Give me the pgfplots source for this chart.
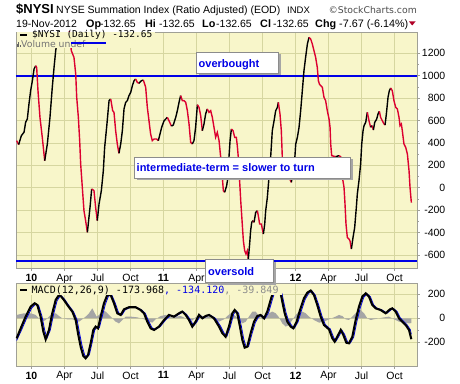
\documentclass[border=0pt]{standalone}
\usepackage{fontspec}
\setmainfont{Liberation Sans}
\newfontfamily\monofont{DejaVu Sans Mono}
\newfontfamily\dejavu{DejaVu Sans}
\usepackage{pgfplots}
\pgfplotsset{compat=1.18}
\definecolor{bgy}{RGB}{248,246,202}
\definecolor{gridc}{RGB}{214,214,160}
\definecolor{bordc}{RGB}{160,160,150}
\definecolor{nred}{RGB}{220,0,48}
\definecolor{nblue}{RGB}{0,0,230}
\definecolor{histg}{RGB}{165,165,165}
\pgfplotsset{
  panel/.style={
    scale only axis, width=401pt,
    xmin=-1.409, xmax=35.045,
    axis background/.style={fill=bgy},
    grid=major, major grid style={draw=gridc, line width=0.6pt},
    axis line style={draw=bordc, line width=0.8pt},
    xtick={0,3,...,33},
    xtick pos=bottom, ytick pos=right, yticklabel pos=right,
    tick align=outside, major tick length=2.5pt, minor tick length=1.5pt,
    tick style={draw=bordc, line width=0.6pt},
    tick label style={font=\fontsize{10.5}{12}\selectfont},
    yticklabel style={anchor=east, inner sep=0pt, xshift=26pt},
    xticklabel style={inner sep=0pt, yshift=-3pt},
  },
  up/.style={black, line width=1.4pt},
  dn/.style={nred, line width=1.4pt},
}
\begin{document}
\begin{tikzpicture}
\path[use as bounding box] (0pt,0pt) rectangle (460pt,383pt);
% ---------------- upper panel ----------------
\begin{axis}[panel, at={(16pt,114.5pt)}, anchor=south west, height=236.5pt,
  ymin=-721, ymax=1390,
  xticklabels={\textbf{10},Apr,Jul,Oct,\textbf{11},Apr,{},{},\textbf{12},Apr,Jul,Oct},
  ytick={-600,-400,-200,0,200,400,600,800,1000,1200},
  yticklabels={-600,-400,-200,0,200,400,600,800,1000,1200},
  minor y tick num=1]
\addplot[nblue, line width=2pt] coordinates {(-1.409,1000) (35.045,1000)};
\addplot[nblue, line width=2pt] coordinates {(-1.409,-650) (35.045,-650)};
\addplot[dn] coordinates {(-1.35,420)(-1.17,385)};
\addplot[up] coordinates {(-1.17,385)(-0.92,465)(-0.68,495)(-0.53,585)(-0.38,613)(-0.23,747)(-0.08,866)(0.08,955)(0.23,1059)(0.38,1089)};
\addplot[dn] coordinates {(0.38,1089)(0.47,1074)(0.59,866)(0.77,628)(0.98,450)(1.20,241)};
\addplot[up] coordinates {(1.20,241)(1.44,390)(1.68,628)(1.89,896)(2.05,1074)(2.20,1223)(2.29,1283)(2.65,1461)(2.95,1500)};
\addplot[dn] coordinates {(2.95,1500)(3.41,1431)(3.62,1223)(3.86,1164)(4.02,1015)(4.11,807)(4.26,628)(4.38,420)(4.47,212)(4.62,3)(4.77,-205)(4.92,-294)(5.08,-398)};
\addplot[up] coordinates {(5.08,-398)(5.32,-175)(5.47,-11)};
\addplot[dn] coordinates {(5.47,-11)(5.68,-26)(5.83,-175)(5.98,-294)};
\addplot[up] coordinates {(5.98,-294)(6.14,-145)(6.35,-26)(6.53,152)(6.65,360)(6.83,539)(7.05,777)(7.20,792)};
\addplot[dn] coordinates {(7.20,792)(7.38,688)(7.5,673)(7.65,509)(7.80,390)(7.95,307)};
\addplot[up] coordinates {(7.95,307)(8.11,390)(8.26,509)(8.41,703)(8.56,762)(8.71,777)(8.86,822)(9.02,851)(9.17,911)(9.32,955)(9.47,970)};
\addplot[dn] coordinates {(9.47,970)(9.62,940)(9.77,932)};
\addplot[up] coordinates {(9.77,932)(9.98,955)(10.17,961)};
\addplot[dn] coordinates {(10.17,961)(10.38,896)(10.53,717)(10.68,598)(10.83,479)(10.98,420)(11.14,435)(11.38,435)(11.53,420)};
\addplot[up] coordinates {(11.53,420)(11.68,479)(11.83,539)(12.05,598)(12.20,613)(12.35,628)};
\addplot[dn] coordinates {(12.35,628)(12.5,598)(12.72,550)};
\addplot[up] coordinates {(12.72,550)(12.89,560)(13.11,628)(13.26,688)(13.41,762)(13.56,822)};
\addplot[dn] coordinates {(13.56,822)(13.71,777)(13.86,777)(14.02,762)(14.17,688)(14.32,569)(14.47,405)(14.62,390)};
\addplot[up] coordinates {(14.62,390)(14.77,420)(14.92,539)(15.08,741)};
\addplot[dn] coordinates {(15.08,741)(15.23,717)(15.38,643)(15.53,509)};
\addplot[up] coordinates {(15.53,509)(15.68,569)(15.83,658)(15.98,703)};
\addplot[dn] coordinates {(15.98,703)(16.14,673)(16.29,688)(16.44,628)(16.59,539)(16.74,450)(16.89,494)(17.05,420)(17.20,271)(17.35,93)(17.44,-26)(17.56,-41)};
\addplot[up] coordinates {(17.56,-41)(17.74,18)(17.86,93)(17.95,271)(18.05,420)(18.17,524)};
\addplot[dn] coordinates {(18.17,524)(18.32,509)(18.47,450)(18.62,450)(18.71,375)(18.80,271)(18.92,63)(19.02,-116)(19.14,-294)(19.26,-473)(19.38,-562)(19.5,-592)(19.62,-562)(19.71,-636)};
\addplot[up] coordinates {(19.71,-636)(19.83,-503)(19.92,-384)(20.02,-309)(20.14,-294)};
\addplot[dn] coordinates {(20.14,-294)(20.23,-309)};
\addplot[up] coordinates {(20.23,-309)(20.38,-220)(20.53,-205)};
\addplot[dn] coordinates {(20.53,-205)(20.62,-250)(20.74,-324)(20.89,-324)(21.08,-413)};
\addplot[up] coordinates {(21.08,-413)(21.20,-324)(21.29,-205)(21.44,-86)(21.59,93)(21.74,271)(21.89,509)(22.05,598)(22.20,688)(22.35,717)(22.44,762)};
\addplot[dn] coordinates {(22.44,762)(22.59,658)(22.71,509)(22.80,271)(22.95,152)(23.26,122)(23.62,48)};
\addplot[up] coordinates {(23.62,48)(23.80,152)(23.92,241)(24.02,390)(24.17,450)(24.32,539)(24.47,688)(24.62,866)(24.77,1045)(24.92,1164)(25.08,1283)(25.23,1342)};
\addplot[dn] coordinates {(25.23,1342)(25.38,1327)(25.53,1283)(25.68,1223)(25.83,1164)(25.98,1074)(26.08,955)(26.17,926)(26.29,911)(26.44,896)(26.59,807)(26.74,777)(26.89,688)(27.05,613)(27.14,539)(27.20,390)(27.29,286)(27.65,277)};
\addplot[up] coordinates {(27.65,277)(27.95,286)};
\addplot[dn] coordinates {(27.95,286)(28.11,277)(28.26,93)(28.41,3)(28.5,-145)(28.59,-324)(28.71,-443)(28.86,-458)(28.95,-473)(29.08,-547)};
\addplot[up] coordinates {(29.08,-547)(29.23,-443)(29.38,-354)(29.53,-175)(29.62,-56)(29.77,63)(29.92,212)(30.02,390)(30.14,509)(30.23,554)(30.38,583)(30.53,673)};
\addplot[dn] coordinates {(30.53,673)(30.68,598)(30.83,539)};
\addplot[up] coordinates {(30.83,539)(30.98,554)};
\addplot[dn] coordinates {(30.98,554)(31.08,515)};
\addplot[up] coordinates {(31.08,515)(31.2,583)(31.38,613)(31.5,658)(31.62,682)};
\addplot[dn] coordinates {(31.62,682)(31.74,628)(31.89,598)(32.05,569)(32.14,560)};
\addplot[up] coordinates {(32.14,560)(32.26,658)(32.41,807)(32.53,866)(32.65,890)};
\addplot[dn] coordinates {(32.65,890)(32.80,866)(32.95,777)(33.11,717)(33.26,703)(33.41,628)(33.5,554)(33.62,569)(33.71,509)(33.86,390)(34.02,360)(34.17,301)(34.32,152)(34.41,3)(34.53,-132.65)};
\end{axis}
% ---------------- MACD panel ----------------
\begin{axis}[panel, at={(16pt,17pt)}, anchor=south west, height=83pt,
  ymin=-397, ymax=294,
  xticklabels={\textbf{10},Apr,Jul,Oct,\textbf{11},Apr,Jul,Oct,\textbf{12},Apr,Jul,Oct},
  ytick={-200,0,200}, yticklabels={-200,0,200},
  minor y tick num=1]
\addplot[fill=histg, draw=none] coordinates {(-1.35,28)(-0.68,42)(-0.08,42)(0.38,28)(0.68,0)(0.98,-28)(1.29,-14)(1.59,14)(1.89,42)(2.20,42)(2.5,19)(2.8,0)(3.26,-8)(3.71,-8)(4.02,-19)(4.32,-28)(4.62,-8)(4.92,14)(5.23,42)(5.53,83)(5.68,56)(5.92,14)(6.14,28)(6.44,69)(6.74,56)(7.05,28)(7.35,0)(7.65,-28)(7.95,-42)(8.26,-14)(8.56,14)(9.02,14)(9.62,8)(10.23,-8)(10.68,-28)(10.98,-36)(11.29,-8)(11.74,19)(12.2,28)(12.65,8)(13.11,14)(13.56,19)(14.02,0)(14.32,-14)(14.62,-19)(14.92,8)(15.23,28)(15.68,8)(16.14,14)(16.59,-14)(17.05,-28)(17.5,-8)(17.80,19)(18.11,42)(18.41,28)(18.86,-8)(19.17,-42)(19.47,-28)(19.77,14)(20.08,56)(20.38,56)(20.68,19)(20.98,-8)(21.29,14)(21.59,42)(21.89,56)(22.20,42)(22.5,8)(22.80,-42)(23.11,-69)(23.41,-56)(23.71,-14)(24.02,28)(24.32,56)(24.62,56)(24.92,42)(25.23,14)(25.68,-14)(26.14,-36)(26.59,-28)(27.05,-8)(27.5,8)(27.95,28)(28.26,19)(28.56,-8)(28.86,-14)(29.32,28)(29.62,56)(29.92,69)(30.23,42)(30.53,0)(30.83,-14)(31.14,-8)(31.59,0)(32.05,8)(32.5,14)(32.95,-8)(33.41,-28)(33.86,-36)(34.32,-42)(34.53,-40)} \closedcycle;
\addplot[nblue, line width=0.8pt] coordinates {(-1.35,-185)(-0.86,-88)(-0.41,8)(0.04,88)(0.41,120)(0.65,107)(0.95,18)(1.20,-100)(1.41,-165)(1.71,-98)(2.01,35)(2.32,145)(2.62,188)(2.77,183)(3.07,151)(3.38,109)(3.83,54)(4.14,-12)(4.35,-115)(4.59,-225)(4.83,-305)(5.04,-326)(5.26,-302)(5.50,-208)(5.74,-100)(5.95,-72)(6.17,-78)(6.41,8)(6.71,115)(7.01,188)(7.32,190)(7.62,125)(7.92,46)(8.23,29)(8.53,72)(8.98,90)(9.59,91)(10.04,68)(10.35,41)(10.65,-24)(10.95,-78)(11.26,-93)(11.71,-68)(12.17,-16)(12.62,24)(13.07,15)(13.53,40)(13.83,54)(14.14,28)(14.44,-12)(14.74,-63)(15.04,-29)(15.35,23)(15.65,3)(15.95,18)(16.26,26)(16.71,1)(17.17,-63)(17.47,-118)(17.77,-148)(18.07,-72)(18.38,35)(18.59,63)(18.83,41)(19.07,-63)(19.29,-170)(19.50,-236)(19.74,-234)(20.04,-130)(20.35,-35)(20.65,13)(20.95,24)(21.26,3)(21.56,48)(21.86,145)(22.10,215)(22.42,258)(22.77,206)(22.92,140)(23.14,46)(23.38,-22)(23.68,-63)(23.92,-80)(24.23,-30)(24.53,62)(24.89,160)(25.20,208)(25.50,228)(25.80,193)(26.10,113)(26.41,18)(26.71,-52)(27.17,-90)(27.47,-160)(27.68,-190)(27.92,-154)(28.23,-100)(28.47,-135)(28.74,-199)(28.98,-206)(29.29,-157)(29.59,-22)(29.89,88)(30.20,174)(30.50,204)(30.80,181)(31.10,113)(31.41,85)(31.86,70)(32.32,43)(32.71,72)(32.92,81)(33.23,57)(33.53,4)(33.83,-25)(34.14,-53)(34.44,-95)(34.53,-134)};
\addplot[black, line width=2.1pt] coordinates {(-1.35,-167)(-0.98,-83)(-0.53,14)(-0.08,97)(0.29,125)(0.53,111)(0.83,14)(1.08,-111)(1.29,-175)(1.59,-97)(1.89,42)(2.20,153)(2.5,194)(2.65,186)(2.95,153)(3.26,111)(3.71,56)(4.02,-14)(4.23,-125)(4.47,-236)(4.71,-314)(4.92,-333)(5.14,-306)(5.38,-208)(5.62,-97)(5.83,-69)(6.05,-83)(6.29,14)(6.59,125)(6.89,194)(7.20,194)(7.5,125)(7.80,42)(8.11,28)(8.41,75)(8.86,92)(9.47,92)(9.92,69)(10.23,42)(10.53,-28)(10.83,-83)(11.14,-97)(11.59,-69)(12.05,-14)(12.5,28)(12.95,14)(13.41,42)(13.71,56)(14.02,28)(14.32,-14)(14.62,-69)(14.92,-28)(15.23,28)(15.53,0)(15.83,19)(16.14,28)(16.59,0)(17.05,-69)(17.35,-125)(17.65,-153)(17.95,-69)(18.26,42)(18.47,69)(18.71,42)(18.95,-69)(19.17,-181)(19.38,-244)(19.62,-236)(19.92,-125)(20.23,-28)(20.53,19)(20.83,28)(21.14,0)(21.44,56)(21.74,153)(21.98,222)(22.3,265)(22.65,208)(22.80,139)(23.02,42)(23.26,-28)(23.56,-69)(23.80,-83)(24.11,-28)(24.41,69)(24.77,167)(25.08,214)(25.38,231)(25.68,194)(25.98,111)(26.29,14)(26.59,-56)(27.05,-92)(27.35,-167)(27.56,-194)(27.80,-153)(28.11,-97)(28.35,-139)(28.62,-203)(28.86,-208)(29.17,-153)(29.47,-14)(29.77,97)(30.08,181)(30.38,208)(30.68,181)(30.98,111)(31.29,83)(31.74,69)(32.20,42)(32.59,75)(32.80,83)(33.11,56)(33.41,0)(33.71,-28)(34.02,-56)(34.32,-97)(34.53,-174)};
\end{axis}
% ---------------- overlays ----------------
\begin{scope}[x=1pt,y=1pt]
% legend covers
\fill[bgy] (16.5,334.5) rectangle (155,350.5);
\fill[bgy] (16.5,88.5) rectangle (282,99.5);
% top legend
\draw[black, line width=2pt] (20,347.5) -- (27,347.5);
\node[anchor=base west, inner sep=0pt] at (32,345.3) {\monofont\fontsize{9.5}{11}\selectfont \$NYSI (Daily) -132.65};
\fill[black!60] (16.8,335.5) rectangle (17.8,339);
\fill[black!60] (18.3,335.5) rectangle (19.3,341);
\fill[black!60] (19.8,335.5) rectangle (20.8,338);
\node[anchor=base west, inner sep=0pt, text=black!55] at (21,335.8) {\dejavu\fontsize{9.3}{10}\selectfont Volume undef};
\draw[nblue, line width=2pt] (71,339.7) -- (106,339.7);
% MACD legend
\draw[black, line width=2pt] (20,93) -- (27,93);
\node[anchor=base west, inner sep=0pt] at (31.5,89.5) {\monofont\fontsize{10}{11}\selectfont MACD(12,26,9) -173.968\textcolor{nblue}{, -134.120}\textcolor{black!45}{, -39.849}};
% annotation boxes
\fill[black!35] (198.5,307.5) rectangle (280.5,328.5);
\filldraw[fill=white, draw=black!45] (196,310) rectangle (278,331);
\node[anchor=base west, inner sep=0pt, text=nblue] at (198.5,315.5) {\bfseries\fontsize{11}{13}\selectfont overbought};
\fill[black!35] (136.5,202.5) rectangle (352.5,223.5);
\filldraw[fill=white, draw=black!45] (134,205) rectangle (350,226);
\node[anchor=base west, inner sep=0pt, text=nblue] at (136.5,211.5) {\bfseries\fontsize{11}{13}\selectfont intermediate-term = slower to turn};
\fill[black!35] (207.5,98.5) rectangle (275.5,121.5);
\filldraw[fill=white, draw=black!45] (205,101) rectangle (273,124);
\node[anchor=base west, inner sep=0pt, text=nblue] at (208,108) {\bfseries\fontsize{11}{13}\selectfont oversold};
% title
\node[anchor=base west, inner sep=0pt] at (16,369.5) {\bfseries\fontsize{13}{15}\selectfont \$NYSI};
\node[anchor=base west, inner sep=0pt] at (56,369.5) {\fontsize{10.5}{12}\selectfont NYSE Summation Index (Ratio Adjusted) (EOD)};
\node[anchor=base west, inner sep=0pt] at (287,369.5) {\fontsize{9.5}{11}\selectfont INDX};
\node[anchor=base east, inner sep=0pt, text=black!70] at (417,369.5) {\dejavu\fontsize{9.3}{11}\selectfont ©StockCharts.com};
\node[anchor=base west, inner sep=0pt] at (16,355.8) {\fontsize{10.5}{12}\selectfont 19-Nov-2012};
\node[anchor=base west, inner sep=0pt] at (86,355.8) {\fontsize{10.8}{12}\selectfont\bfseries Op};
\node[anchor=base west, inner sep=0pt] at (100,355.8) {\fontsize{10.5}{12}\selectfont -132.65};
\node[anchor=base west, inner sep=0pt] at (145,355.8) {\fontsize{10.8}{12}\selectfont\bfseries Hi};
\node[anchor=base west, inner sep=0pt] at (159,355.8) {\fontsize{10.5}{12}\selectfont -132.65};
\node[anchor=base west, inner sep=0pt] at (202,355.8) {\fontsize{10.8}{12}\selectfont\bfseries Lo};
\node[anchor=base west, inner sep=0pt] at (216,355.8) {\fontsize{10.5}{12}\selectfont -132.65};
\node[anchor=base west, inner sep=0pt] at (260,355.8) {\fontsize{10.8}{12}\selectfont\bfseries Cl};
\node[anchor=base west, inner sep=0pt] at (273,355.8) {\fontsize{10.5}{12}\selectfont -132.65};
\node[anchor=base west, inner sep=0pt] at (315,355.8) {\fontsize{10.8}{12}\selectfont\bfseries Chg};
\node[anchor=base west, inner sep=0pt] at (339,355.8) {\fontsize{10.8}{12}\selectfont -7.67 (-6.14\%)};
\fill[nred!80!black] (409,361.5) -- (415.5,361.5) -- (412.25,357.5) -- cycle;
\end{scope}
\end{tikzpicture}
\end{document}
